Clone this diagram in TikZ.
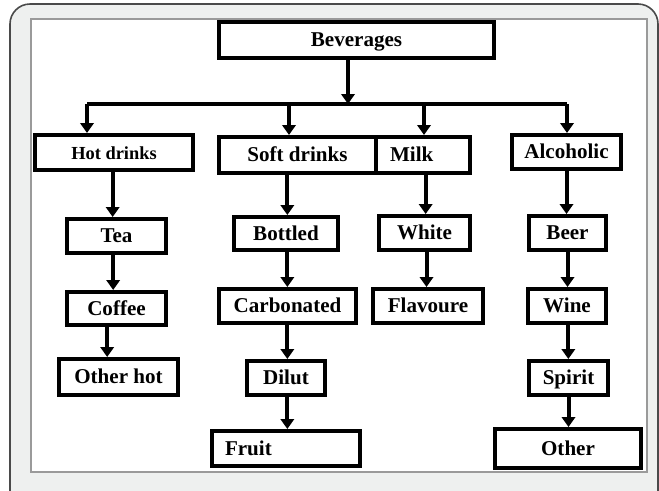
\documentclass[tikz,border=0pt]{standalone}
\usepackage{fontspec}
\setmainfont{Liberation Serif}
\usepackage{xcolor}
\usepackage{tikz}
\usetikzlibrary{arrows.meta,positioning}
\definecolor{framefill}{HTML}{EEF0EF}
\definecolor{frameline}{HTML}{4A4A4A}
\definecolor{panelline}{HTML}{9A9A9A}

\begin{document}
\begin{tikzpicture}[
  x=0.75pt, y=-0.75pt,
  box/.style={draw, line width=3pt, inner sep=0pt, text height=1.1em, text depth=0.1em,
    font=\fontsize{15.8}{18}\selectfont\bfseries},
  leftbox/.style={box, align=left},
  line/.style={line width=3pt},
  arr/.style={-{Triangle[length=7.5pt, width=10pt]}, line width=3pt}
]
\useasboundingbox (0,0) rectangle (659,490);
\begin{scope}
\clip (0,0) rectangle (659,490);
\draw[fill=framefill, draw=frameline, line width=1.2pt, rounded corners=15pt] (10,4) rectangle (658,530);
\end{scope}
\draw[fill=white, draw=panelline, line width=0.8pt] (31,19) rectangle (647,472);

\node[box, minimum width=206.25pt, minimum height=27pt] (bev) at (356.5,40) {Beverages};

\node[box, minimum width=118.5pt, minimum height=26.25pt, font=\fontsize{13.8}{15}\selectfont\bfseries] (hot) at (114,152.5) {Hot drinks};
\node[box, minimum width=117.75pt, minimum height=27pt] (soft) at (297.5,155) {Soft drinks};
\node[leftbox, minimum height=27pt, inner xsep=10.5pt, text width=49.5pt] (milk) at (423,155) {Milk};
\node[box, minimum width=81.75pt, minimum height=25.5pt] (alc) at (566.5,152) {Alcoholic};

\node[box, minimum width=74.25pt, minimum height=25.5pt] (tea) at (116.5,236) {Tea};
\node[box, minimum width=74.25pt, minimum height=24.75pt] (coffee) at (116.5,308.5) {Coffee};
\node[box, minimum width=89.25pt, minimum height=27pt] (ohot) at (118.5,377) {Other hot};

\node[box, minimum width=78pt, minimum height=24.75pt] (bottled) at (286,233.5) {Bottled};
\node[box, minimum width=102.75pt, minimum height=25.5pt] (carb) at (287.5,306) {Carbonated};
\node[box, minimum width=58.5pt, minimum height=25.5pt] (dilut) at (286,378) {Dilut};
\node[leftbox, minimum height=26.25pt, inner xsep=9.75pt, text width=91.5pt] (fruit) at (286,448.5) {Fruit};

\node[box, minimum width=68.25pt, minimum height=25.5pt] (white) at (424.5,233) {White};
\node[box, minimum width=82.5pt, minimum height=25.5pt] (flav) at (428,306) {Flavoure};

\node[box, minimum width=57.75pt, minimum height=25.5pt] (beer) at (567.5,233) {Beer};
\node[box, minimum width=58.5pt, minimum height=25.5pt] (wine) at (567,306) {Wine};
\node[box, minimum width=59.25pt, minimum height=25.5pt] (spirit) at (568.5,378) {Spirit};
\node[box, minimum width=109.5pt, minimum height=29.25pt] (other) at (568,448.5) {Other};

\coordinate (top) at (348,60);
\coordinate (bus) at (348,104);
\coordinate (jhot) at (87,104);
\coordinate (jsoft) at (289,104);
\coordinate (jmilk) at (424,104);
\coordinate (jalc) at (567,104);

\draw[arr] (top) -- (bus);
\draw[line] (jhot) -- (jalc);
\draw[arr] (jhot) -- (jhot |- hot.north);
\draw[arr] (jsoft) -- (jsoft |- soft.north);
\draw[arr] (jmilk) -- (jmilk |- milk.north);
\draw[arr] (jalc) -- (jalc |- alc.north);

\draw[arr] ([xshift=-1pt]hot.south) -- ([xshift=-1pt]hot.south |- tea.north);
\draw[arr] ([xshift=-2.5pt]tea.south) -- ([xshift=-2.5pt]tea.south |- coffee.north);
\draw[arr] ([xshift=-7pt]coffee.south) -- ([xshift=-7pt]coffee.south |- ohot.north);

\draw[arr] ([xshift=1pt]bottled.south |- soft.south) -- ([xshift=1pt]bottled.north);
\draw[arr] ([xshift=1pt]bottled.south) -- ([xshift=1pt]bottled.south |- carb.north);
\draw[arr] ([xshift=1pt]dilut.north |- carb.south) -- ([xshift=1pt]dilut.north);
\draw[arr] ([xshift=1pt]dilut.south) -- ([xshift=1pt]dilut.south |- fruit.north);

\draw[arr] ([xshift=2pt]milk.south) -- ([xshift=2pt]milk.south |- white.north);
\draw[arr] ([xshift=1.5pt]white.south) -- ([xshift=1.5pt]white.south |- flav.north);

\draw[arr] (alc.south) -- (alc.south |- beer.north);
\draw[arr] (beer.south) -- (beer.south |- wine.north);
\draw[arr] ([xshift=1pt]wine.south) -- ([xshift=1pt]wine.south |- spirit.north);
\draw[arr] (spirit.south) -- (spirit.south |- other.north);
\end{tikzpicture}
\end{document}
